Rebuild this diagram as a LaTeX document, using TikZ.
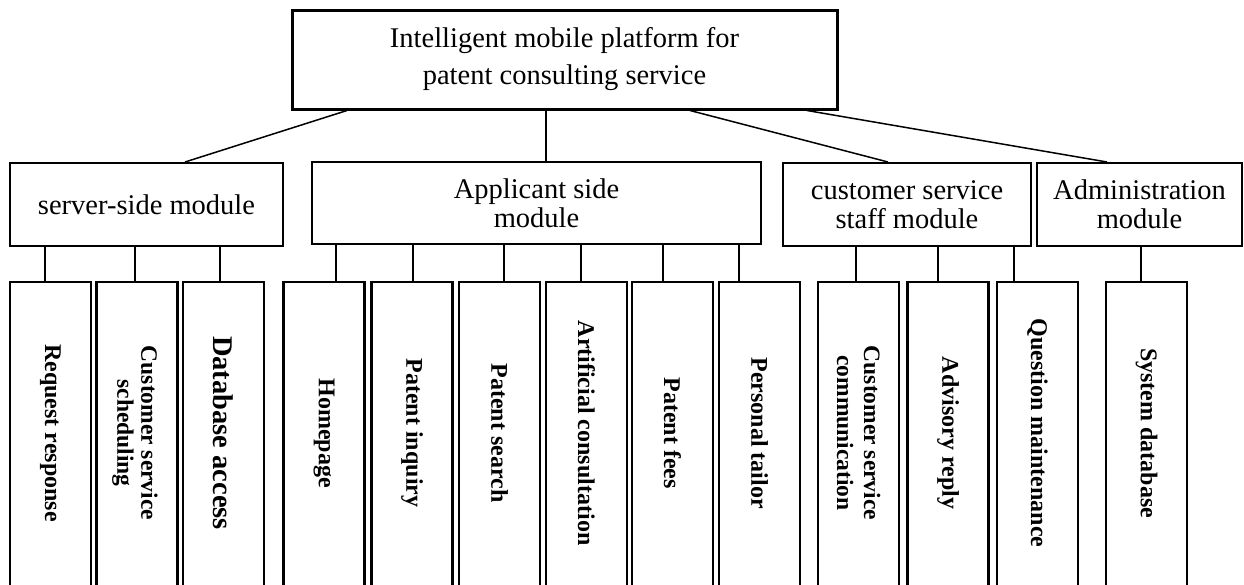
\documentclass[tikz,border=0pt]{standalone}
\usepackage{fontspec}
\setmainfont{Liberation Serif}
\begin{document}
\begin{tikzpicture}[x=1pt,y=-1pt,
  topbox/.style={draw, line width=3pt, minimum width=545pt, minimum height=99pt, inner sep=0pt, align=center, font=\fontsize{28.5}{37}\selectfont},
  midbox/.style={draw, line width=2pt, minimum height=83pt, inner sep=0pt, align=center, font=\fontsize{28.5}{29}\selectfont},
  leafbox/.style={draw, line width=2.4pt, minimum width=81pt, minimum height=318pt, inner sep=0pt},
  leaftext/.style={rotate=-90, align=center, inner sep=0pt, font=\fontsize{24}{25}\selectfont\bfseries},
  conn/.style={draw, line width=1.5pt}
]
\clip (0,0) rectangle (1244,584);
\fill[white] (0,0) rectangle (1244,584);

% top
\node[topbox] (top) at (564.5,59.5) {Intelligent mobile platform for\\patent consulting service};

% modules
\node[midbox, minimum width=273pt] (srv) at (146.5,204.5) {server-side module};
\node[midbox, minimum width=449pt, minimum height=82pt] (app) at (536.5,203) {Applicant side\\module};
\node[midbox, minimum width=248pt] (cs) at (907,204.5) {customer service\\staff module};
\node[midbox, minimum width=205pt] (adm) at (1139.5,204.5) {Administration\\module};

% leaves
\node[leafbox] (b1) at (50.5,441) {};
\node[leafbox] (b2) at (137,441) {};
\node[leafbox] (b3) at (223.5,441) {};
\node[leafbox] (b4) at (324,441) {};
\node[leafbox] (b5) at (412,441) {};
\node[leafbox] (b6) at (499.5,441) {};
\node[leafbox] (b7) at (586.5,441) {};
\node[leafbox] (b8) at (672.5,441) {};
\node[leafbox] (b9) at (759.5,441) {};
\node[leafbox] (b10) at (858.5,441) {};
\node[leafbox] (b11) at (948,441) {};
\node[leafbox] (b12) at (1037.5,441) {};
\node[leafbox] (b13) at (1146.5,441) {};

\node[leaftext] (t1) at (50.5,433) {Request response};
\node[leaftext, font=\fontsize{23.5}{24}\selectfont\bfseries] (t2) at (135,433) {Customer service\\scheduling};
\node[leaftext, font=\fontsize{28.5}{29}\selectfont\bfseries] (t3) at (223.5,433) {Database access};
\node[leaftext] (t4) at (324,433) {Homepage};
\node[leaftext] (t5) at (412,433) {Patent inquiry};
\node[leaftext] (t6) at (499.5,433) {Patent search};
\node[leaftext] (t7) at (586.5,433) {Artificial consultation};
\node[leaftext] (t8) at (672.5,433) {Patent fees};
\node[leaftext] (t9) at (759.5,433) {Personal tailor};
\node[leaftext, font=\fontsize{23.5}{27}\selectfont\bfseries] (t10) at (858.5,433) {Customer service\\communication};
\node[leaftext] (t11) at (948,433) {Advisory reply};
\node[leaftext] (t12) at (1037.5,433) {Question maintenance};
\node[leaftext] (t13) at (1146.5,433) {System database};

% top connectors
\draw[conn] ([xshift=-217.5pt]top.south) -- ([xshift=38.5pt]srv.north);
\draw[conn] ([xshift=-18.5pt]top.south) -- ([xshift=9.5pt]app.north);
\draw[conn] ([xshift=125.5pt]top.south) -- ([xshift=-19pt]cs.north);
\draw[conn] ([xshift=242.5pt]top.south) -- ([xshift=-32.5pt]adm.north);

% leaf connectors
\draw[conn] ([xshift=-5.5pt]b1.north) -- ([xshift=-5.5pt]b1.north |- srv.south);
\draw[conn] ([xshift=-2pt]b2.north) -- ([xshift=-2pt]b2.north |- srv.south);
\draw[conn] ([xshift=-3.5pt]b3.north) -- ([xshift=-3.5pt]b3.north |- srv.south);
\draw[conn] ([xshift=12pt]b4.north) -- ([xshift=12pt]b4.north |- app.south);
\draw[conn] ([xshift=1pt]b5.north) -- ([xshift=1pt]b5.north |- app.south);
\draw[conn] ([xshift=4.5pt]b6.north) -- ([xshift=4.5pt]b6.north |- app.south);
\draw[conn] ([xshift=-5.5pt]b7.north) -- ([xshift=-5.5pt]b7.north |- app.south);
\draw[conn] ([xshift=-9.5pt]b8.north) -- ([xshift=-9.5pt]b8.north |- app.south);
\draw[conn] ([xshift=-20.5pt]b9.north) -- ([xshift=-20.5pt]b9.north |- app.south);
\draw[conn] ([xshift=-2.5pt]b10.north) -- ([xshift=-2.5pt]b10.north |- cs.south);
\draw[conn] ([xshift=-10pt]b11.north) -- ([xshift=-10pt]b11.north |- cs.south);
\draw[conn] ([xshift=-23.5pt]b12.north) -- ([xshift=-23.5pt]b12.north |- cs.south);
\draw[conn] ([xshift=-5.5pt]b13.north) -- ([xshift=-5.5pt]b13.north |- adm.south);
\end{tikzpicture}
\end{document}
